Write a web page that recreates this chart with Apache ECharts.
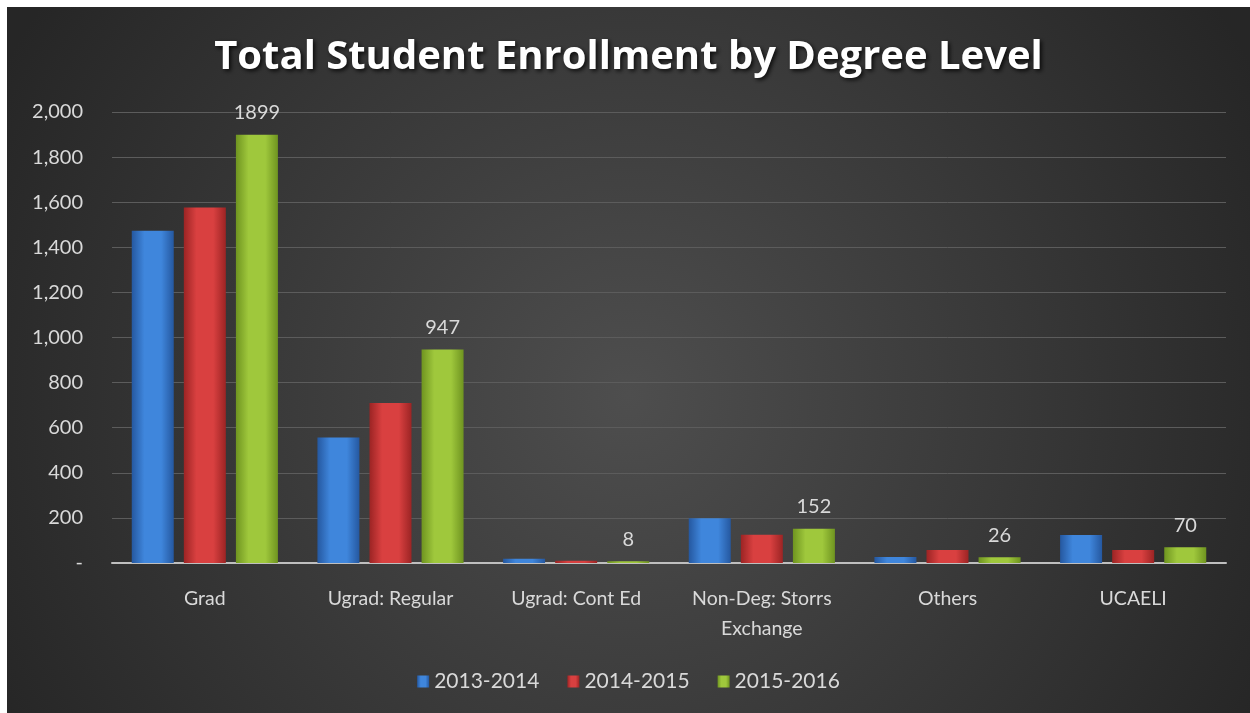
<!DOCTYPE html>
<html>
<head>
<meta charset="utf-8">
<script src="https://cdn.jsdelivr.net/npm/echarts@6/dist/echarts.min.js"></script>
<style>
  html, body { margin: 0; padding: 0; background: #ffffff; }
  #chart { position: absolute; left: 7px; top: 7px; width: 1243px; height: 706px; }
</style>
</head>
<body>
<div id="chart"></div>
<script>
const categories = ["Grad", "Ugrad: Regular", "Ugrad: Cont Ed", "Non-Deg: Storrs\nExchange", "Others", "UCAELI"];
const seriesNames = ["2013-2014", "2014-2015", "2015-2016"];
const values2013 = [1473, 556, 19, 199, 27, 124];
const values2014 = [1577, 709, 10, 125, 58, 58];
const values2015 = [1899, 947, 8, 152, 26, 70];

const font = "Lato";

//horizontal gradient to fake the bevelled bars
function barFill(edge, mid) {
  return {
    type: "linear", x: 0, y: 0, x2: 1, y2: 0,
    colorStops: [
      { offset: 0, color: edge },
      { offset: 0.3, color: mid },
      { offset: 0.7, color: mid },
      { offset: 1, color: edge },
    ],
  };
}

const chart = echarts.init(document.getElementById("chart"));
chart.setOption({
  backgroundColor: {
    type: "radial", x: 0.5, y: 0.55, r: 1.0,
    colorStops: [
      { offset: 0, color: "#4e4e4e" },
      { offset: 1, color: "#262626" },
    ],
  },
  title: {
    text: "Total Student Enrollment by Degree Level",
    left: "center",
    top: 26,
    textStyle: {
      color: "#ffffff",
      fontSize: 40,
      fontWeight: "bold",
      fontFamily: "Open Sans",
      textShadowColor: "rgba(0,0,0,0.8)",
      textShadowBlur: 4,
      textShadowOffsetX: 2,
      textShadowOffsetY: 2,
    },
  },
  legend: {
    bottom: 16,
    left: "center",
    itemWidth: 12,
    itemHeight: 12,
    itemGap: 28,
    icon: "rect",
    textStyle: { color: "#d9d9d9", fontSize: 21, fontFamily: font },
    data: seriesNames,
  },
  grid: { left: 105, right: 24, top: 105, bottom: 150, containLabel: false },
  xAxis: {
    type: "category",
    data: categories,
    axisLine: { lineStyle: { color: "#bfbfbf", width: 2 } },
    axisTick: { show: false },
    axisLabel: {
      color: "#d9d9d9",
      fontSize: 19.5,
      fontFamily: font,
      margin: 21,
      lineHeight: 30,
      interval: 0,
    },
  },
  yAxis: {
    type: "value",
    min: 0,
    max: 2000,
    interval: 200,
    axisLine: { show: false },
    axisTick: { show: false },
    splitLine: { lineStyle: { color: "#5c5c5c", width: 1 } },
    axisLabel: {
      color: "#d9d9d9",
      fontSize: 20,
      fontFamily: font,
      margin: 29,
      formatter: (v) => (v === 0 ? "-" : v.toLocaleString("en-US")),
    },
  },
  series: [
    {
      name: seriesNames[0],
      type: "bar",
      data: values2013,
      barWidth: 42,
      barGap: "24%",
      itemStyle: { color: barFill("#2558a0", "#3f86dc") },
    },
    {
      name: seriesNames[1],
      type: "bar",
      data: values2014,
      barWidth: 42,
      barGap: "24%",
      itemStyle: { color: barFill("#9c2424", "#d94040") },
    },
    {
      name: seriesNames[2],
      type: "bar",
      data: values2015,
      barWidth: 42,
      barGap: "24%",
      itemStyle: { color: barFill("#6f9420", "#9fc83c") },
      label: {
        show: true,
        position: "top",
        distance: 12,
        color: "#d9d9d9",
        fontSize: 20,
        fontFamily: font,
      },
    },
  ],
});
</script>
</body>
</html>
